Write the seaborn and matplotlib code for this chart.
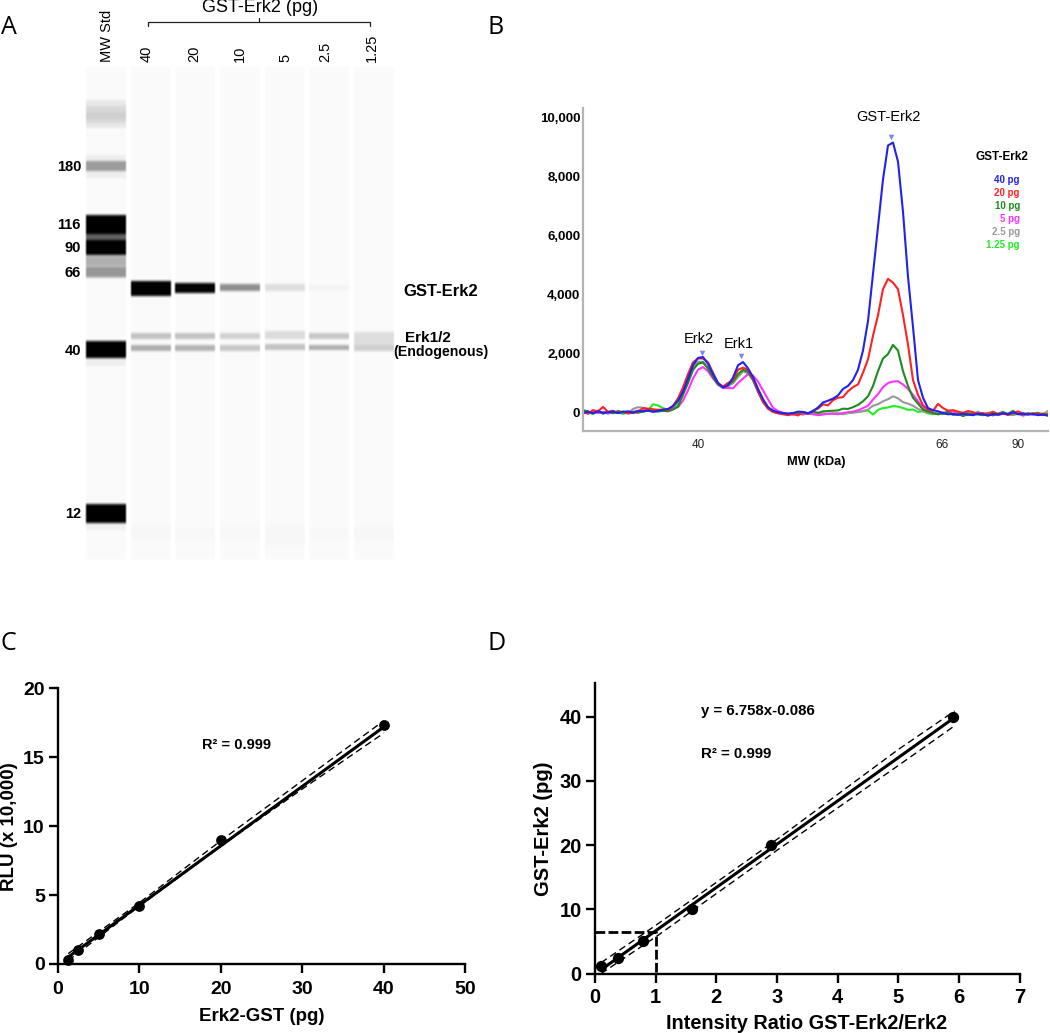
#!/bin/env python

import numpy as np
import pandas as pd
import seaborn as sns
import matplotlib
matplotlib.use('Agg')
import matplotlib.pyplot as plt

W, H = 1050, 1033

# panel A, gel bands. rows are pixel rows of the figure
lane_names = ['MW Std', '40', '20', '10', '5', '2.5', '1.25']
mw_labels = ['180', '116', '90', '66', '40', '12']
mw_label_rows = [167, 225, 248, 273, 351, 514]

band_lane = [0, 0, 0, 0, 0, 0, 0, 0, 0, 0, 0, 0, 0, 0, 0, 0,
             1, 2, 3, 4, 5,
             1, 2, 3, 4, 5, 6,
             1, 2, 3, 4, 5, 6,
             1, 2, 3, 4, 5, 6]
band_top = [100, 106, 112, 135, 155, 161, 215, 234, 240, 255, 256, 267, 341, 358, 504, 523,
            281, 283, 284, 284, 285,
            333, 333, 333, 331, 333, 332,
            345, 345, 345, 344, 345, 345,
            525, 528, 525, 525, 528, 525]
band_bottom = [128, 123, 119, 136, 178, 171, 234, 240, 255, 266, 278, 277, 358, 366, 523, 530,
               296, 293, 291, 291, 290,
               339, 339, 339, 339, 339, 345,
               351, 351, 351, 350, 350, 351,
               540, 540, 540, 545, 540, 540]
band_dark = [0.07, 0.06, 0.04, 0.03, 0.05, 0.32, 1.0, 0.6, 1.0, 0.12, 0.17, 0.22, 1.0, 0.05, 1.0, 0.04,
             1.0, 0.96, 0.42, 0.11, 0.03,
             0.22, 0.22, 0.16, 0.12, 0.2, 0.11,
             0.3, 0.28, 0.2, 0.22, 0.3, 0.17,
             0.012, 0.008, 0.008, 0.014, 0.008, 0.012]

# panel B, electropherogram traces
trace_pos = np.arange(0, 466, 5)
trace_40 = [-20, 30, -30, 40, -10, 10, 30, -20, 20, 40,
            -10, 50, 40, 70, 20, 60, 90, 120, 220, 400,
            700, 1150, 1600, 1850, 1880, 1650, 1300, 1000, 850, 920,
            1180, 1600, 1710, 1500, 1200, 800, 450, 180, 60, 10,
            -20, -40, -20, 30, 20, -30, 50, 170, 340, 400,
            470, 580, 800, 900, 1100, 1450, 2100, 3100, 4700, 6300,
            7900, 9050, 9150, 8500, 6800, 4600, 2900, 1100, 500, 150,
            80, 40, -20, -60, -50, -80, -40, -70, -90, -40,
            -60, -110, -50, -70, -30, -60, 10, -60, -40, -70,
            -50, -90, -70, -110]
trace_20 = [20, -40, 80, 40, 190, 20, 60, -20, 30, -30,
            -10, 20, 150, 130, 110, 90, 100, 80, 220, 480,
            850, 1300, 1700, 1830, 1830, 1700, 1350, 1000, 880, 1000,
            1100, 1450, 1520, 1450, 1150, 720, 350, 130, 20, -30,
            -60, -90, -50, -100, 10, -40, 60, 130, 280, 240,
            420, 500, 520, 720, 860, 950, 1350, 1800, 2600, 3300,
            4180, 4530, 4400, 4180, 3300, 2300, 1100, 600, 250, 100,
            60, 290, 150, 60, 80, 30, -20, 50, 10, -40,
            -20, -60, 20, -50, -30, -80, -20, 40, -40, -60,
            -30, -60, -50, -80]
trace_10 = [80, 40, -30, 60, -40, 20, -20, 50, 10, -30,
            30, -10, 40, 70, 50, 30, 60, 40, 100, 200,
            600, 1000, 1450, 1650, 1700, 1500, 1200, 950, 860, 950,
            1050, 1300, 1450, 1380, 1100, 700, 380, 150, 40, -10,
            -40, -60, -30, -50, 10, -20, 30, -10, 40, 50,
            60, 70, 130, 120, 180, 260, 380, 550, 900, 1400,
            1830, 1980, 2290, 2100, 1400, 900, 500, 300, 100, 30,
            -20, -60, -30, 30, -80, -50, -120, -60, -30, -70,
            -90, -30, -100, -40, 20, -60, 40, -50, -70, -30,
            -60, -20, -80, -60]
trace_5 = [30, -30, 40, -20, 20, -40, 30, -10, 20, -20,
           20, 60, 80, 70, 40, 60, 80, 90, 150, 180,
           400, 750, 1150, 1450, 1540, 1400, 1150, 950, 830, 830,
           820, 1000, 1150, 1300, 1250, 1050, 750, 450, 160, 50,
           -10, -50, -70, -30, -60, -20, -60, -90, -70, -40,
           -30, -60, -20, 10, 30, 70, 150, 230, 440, 620,
           860, 1000, 1050, 1060, 950, 800, 600, 380, 180, 50,
           0, -60, -30, -20, 40, -60, -30, -40, -80, -30,
           -70, -60, -30, -90, -40, -70, -50, -20, -110, -40,
           -70, -40, -90, -50]
trace_25 = [40, -20, 10, 30, -30, 20, 40, -10, 30, -20,
            120, 180, 160, 100, 70, 90, 60, 110, 170, 450,
            800, 1200, 1550, 1720, 1720, 1500, 1220, 950, 830, 880,
            1000, 1250, 1400, 1320, 1100, 750, 400, 140, 30, -10,
            -50, -30, -60, -40, -20, -50, -30, -60, -40, -50,
            -50, -30, -40, -10, 20, 10, 50, 100, 230, 280,
            380, 450, 550, 480, 350, 300, 230, 120, 40, 0,
            -40, -20, 10, -30, -50, -20, 0, -10, -70, 30,
            -60, -20, 30, -70, -40, -30, 60, -50, -20, -60,
            -30, -10, -60, 50]
trace_125 = [60, -10, -40, 30, -20, 10, -30, 30, -50, 10,
             -10, 30, 20, 70, 280, 240, 150, 90, 130, 300,
             800, 1050, 1450, 1680, 1700, 1500, 1220, 970, 860, 900,
             1000, 1200, 1400, 1400, 1150, 780, 430, 170, 60, -10,
             -30, -60, -10, -40, -70, -30, -60, -50, -30, -50,
             -40, -30, -60, -20, -10, 20, 40, 70, -70, 90,
             150, 170, 220, 200, 150, 90, 100, 20, 40, -30,
             -60, -30, -40, -10, -60, -70, -30, -90, -50, -40,
             -70, -30, -80, -50, -20, -60, -90, -40, -60, -30,
             -50, -80, -30, -70]
trace_names = ['1.25 pg', '2.5 pg', '5 pg', '10 pg', '20 pg', '40 pg']
trace_colors = ['#22ee22', '#999999', '#ff33ff', '#1f8a1f', '#ff2222', '#2222ee']
peak_pos = [119, 158, 308]
peak_val = [2030, 1900, 9350]
mw_ticks = [115, 358.6, 435]
mw_tick_labels = ['40', '66', '90']

# panel C
c_x = [1.25, 2.5, 5, 10, 20, 40]
c_y = [0.31, 1.0, 2.15, 4.18, 8.96, 17.34]
c_fit_x = [1.25, 40]
c_fit_y = [0.5, 17.2]
c_ci_x = [1.25, 10, 20, 30, 40]
c_ci_hi = [0.75, 4.45, 8.95, 13.3, 17.65]
c_ci_lo = [0.25, 4.2, 8.55, 12.7, 16.75]

# panel D
d_x = [0.1, 0.38, 0.785, 1.604, 2.9, 5.91]
d_y = [1.25, 2.5, 5, 10, 20, 40]
d_fit_x = [0.1, 5.93]
d_fit_y = [0.6, 39.9]
d_ci_x = [0.1, 1, 3, 5, 5.93]
d_ci_hi = [1.7, 7.5, 20.9, 34.9, 40.9]
d_ci_lo = [0.0, 5.7, 19.2, 32.4, 38.6]
d_guide_x = [0, 1, 1]
d_guide_y = [6.43, 6.43, 0]


def px_axes(fig, left, top, right, bottom, **kw):
    return fig.add_axes([left / W, 1 - bottom / H, (right - left) / W, (bottom - top) / H], **kw)


def gel_image(left, top, right, bottom):
    # paint the lanes, then soften the edges a little
    lane_left = [86, 131, 175, 220, 265, 309, 354]
    grid = np.zeros((bottom - top, right - left))
    for l in lane_left:
        grid[:, l - left:l + 40 - left] = 0.02
    for lane, t, b, d in zip(band_lane, band_top, band_bottom, band_dark):
        l = lane_left[lane] - left
        grid[t - top:b - top, l:l + 40] += d
    grid = np.clip(grid, 0, 1)
    kern = np.array([1, 2, 3, 2, 1]) / 9.0
    grid = np.apply_along_axis(lambda r: np.convolve(r, kern, mode='same'), 0, grid)
    grid = np.apply_along_axis(lambda r: np.convolve(r, [0.25, 0.5, 0.25], mode='same'), 1, grid)
    return grid


def style_fit_axes(ax, spine_lw, pad_x):
    sns.despine(ax=ax)
    for s in ['left', 'bottom']:
        ax.spines[s].set_linewidth(spine_lw)
    ax.tick_params(width=spine_lw, length=6.5, labelsize=14, pad=3)
    ax.tick_params(axis='x', pad=pad_x)
    for lab in ax.get_xticklabels() + ax.get_yticklabels():
        lab.set_fontweight('bold')


def draw_fit(ax, x, y, fit_x, fit_y, ci_x, ci_hi, ci_lo, msize):
    dash = (0, (5, 3))
    sns.lineplot(x=ci_x, y=ci_hi, ax=ax, color='black', lw=1.0, linestyle=dash, estimator=None)
    sns.lineplot(x=ci_x, y=ci_lo, ax=ax, color='black', lw=1.0, linestyle=dash, estimator=None)
    sns.lineplot(x=fit_x, y=fit_y, ax=ax, color='black', lw=2.2, estimator=None)
    sns.scatterplot(x=x, y=y, ax=ax, color='black', s=msize, linewidth=0, clip_on=False, zorder=5)


def main():
    sns.set_theme(style='ticks')
    plt.rcParams['font.family'] = ['Liberation Sans', 'DejaVu Sans']
    plt.rcParams['axes.edgecolor'] = 'black'
    plt.rcParams['xtick.color'] = 'black'
    plt.rcParams['ytick.color'] = 'black'
    plt.rcParams['text.color'] = 'black'
    plt.rcParams['axes.labelcolor'] = 'black'

    fig = plt.figure(figsize=(W / 100, H / 100), dpi=100)

    # A: gel
    ax_a = px_axes(fig, 84, 66, 396, 560)
    sns.heatmap(gel_image(84, 66, 396, 560), ax=ax_a, cmap='gray_r', vmin=0, vmax=1, cbar=False,
                xticklabels=False, yticklabels=False, rasterized=True)

    # B: traces
    ax_b = px_axes(fig, 583, 108, 1048, 431)
    df = pd.DataFrame({'pos': trace_pos, '1.25 pg': trace_125, '2.5 pg': trace_25, '5 pg': trace_5,
                       '10 pg': trace_10, '20 pg': trace_20, '40 pg': trace_40})
    long_df = df.melt(id_vars='pos', var_name='amount', value_name='signal')
    sns.lineplot(data=long_df, x='pos', y='signal', hue='amount', hue_order=trace_names,
                 palette=trace_colors, lw=1.5, legend=False, estimator=None, ax=ax_b)
    sns.scatterplot(x=peak_pos, y=peak_val, ax=ax_b, marker='v', color='#7f86ee', s=16, linewidth=0)
    ax_b.set_xlim(0, 465)
    ax_b.set_ylim(-627, 10320)
    ax_b.set_xticks(mw_ticks)
    ax_b.set_xticklabels(mw_tick_labels)
    ax_b.set_yticks([0, 2000, 4000, 6000, 8000, 10000])
    ax_b.set_yticklabels(['0', '2,000', '4,000', '6,000', '8,000', '10,000'], fontweight='bold', fontsize=9.5)
    ax_b.tick_params(length=0, pad=2)
    ax_b.tick_params(axis='x', labelsize=8.5, colors='#222222', pad=6)
    ax_b.set_xlabel('')
    ax_b.set_ylabel('')
    sns.despine(ax=ax_b)
    for s in ['left', 'bottom']:
        ax_b.spines[s].set_color('#b4b4b4')
        ax_b.spines[s].set_linewidth(1.6)

    # C: RLU calibration
    ax_c = px_axes(fig, 58, 688.3, 465.3, 964)
    draw_fit(ax_c, c_x, c_y, c_fit_x, c_fit_y, c_ci_x, c_ci_hi, c_ci_lo, 60)
    ax_c.set_xlim(0, 50)
    ax_c.set_ylim(0, 20)
    ax_c.set_xticks([0, 10, 20, 30, 40, 50])
    ax_c.set_yticks([0, 5, 10, 15, 20])
    style_fit_axes(ax_c, 1.7, 5.5)
    ax_c.set_xlabel('Erk2-GST (pg)', fontweight='bold', fontsize=13.5, va='center')
    ax_c.set_ylabel('RLU (x 10,000)', fontweight='bold', fontsize=13.5, va='center')
    ax_c.xaxis.set_label_coords(0.5, -0.189)
    ax_c.yaxis.set_label_coords(-0.118, 0.5)

    # D: ratio calibration
    ax_d = px_axes(fig, 595, 683.4, 1019.5, 973.6)
    draw_fit(ax_d, d_x, d_y, d_fit_x, d_fit_y, d_ci_x, d_ci_hi, d_ci_lo, 66)
    sns.lineplot(x=d_guide_x, y=d_guide_y, ax=ax_d, color='black', lw=2.0, linestyle=(0, (3.5, 1.2)),
                 estimator=None, sort=False)
    ax_d.set_xlim(0, 7)
    ax_d.set_ylim(0, 45.2)
    ax_d.set_xticks(range(8))
    ax_d.set_yticks([0, 10, 20, 30, 40])
    style_fit_axes(ax_d, 1.7, 4)
    ax_d.tick_params(labelsize=14.5)
    ax_d.set_xlabel('Intensity Ratio GST-Erk2/Erk2', fontweight='bold', fontsize=14.3, va='center')
    ax_d.set_ylabel('GST-Erk2 (pg)', fontweight='bold', fontsize=14.5, va='center')
    ax_d.xaxis.set_label_coords(0.498, -0.173)
    ax_d.yaxis.set_label_coords(-0.1215, 0.5)

    # everything that sits on top goes on a pixel overlay
    top = fig.add_axes([0, 0, 1, 1], facecolor='none', zorder=10)
    top.set_xlim(0, W)
    top.set_ylim(H, 0)
    top.axis('off')

    def txt(x, y, s, size, weight='normal', ha='center', va='center', **kw):
        top.text(x, y, s, fontsize=size, fontweight=weight, ha=ha, va=va, **kw)

    for s, x, y in [('A', 1, 27), ('B', 487, 27), ('C', 1, 643), ('D', 487, 643)]:
        txt(x, y, s, 18, ha='left', family='Open Sans')

    # A labels
    for name, x in zip(lane_names, [107, 147, 194, 240, 285, 325, 372]):
        txt(x, 62, name, 10.5, ha='center', va='bottom', rotation=90)
    for lab, row in zip(mw_labels, mw_label_rows):
        txt(81, row, lab, 10.5, 'bold', ha='right')
    txt(260.5, 8, 'GST-Erk2 (pg)', 13)
    top.plot([148, 148, 370, 370], [26, 22, 22, 26], color='#222222', lw=0.9)
    top.plot([259, 259], [22, 18], color='#222222', lw=0.9)
    txt(441, 291, 'GST-Erk2', 12, 'bold')
    txt(428, 338, 'Erk1/2', 11, 'bold')
    txt(441, 352, '(Endogenous)', 10.2, 'bold')

    # B labels
    txt(888, 117, 'GST-Erk2', 10.5)
    txt(699, 339, 'Erk2', 10.5)
    txt(739, 344, 'Erk1', 10.5)
    txt(816, 461.5, 'MW (kDa)', 9.3, 'bold')
    txt(1001.5, 157, 'GST-Erk2', 8.5, 'bold')
    legend_rows = [180, 193, 206, 219, 232, 245]
    for name, color, row in zip(trace_names[::-1], trace_colors[::-1], legend_rows):
        txt(1020, row, name, 7, 'bold', ha='right', color=color)

    # C and D notes
    txt(237, 745, 'R\u00b2 = 0.999', 10.5, 'bold')
    txt(700.7, 711, 'y = 6.758x-0.086', 10.8, 'bold', ha='left')
    txt(700.7, 754, 'R\u00b2 = 0.999', 10.8, 'bold', ha='left')

    fig.savefig('out.png', dpi=100)


if __name__ == '__main__':
    main()
